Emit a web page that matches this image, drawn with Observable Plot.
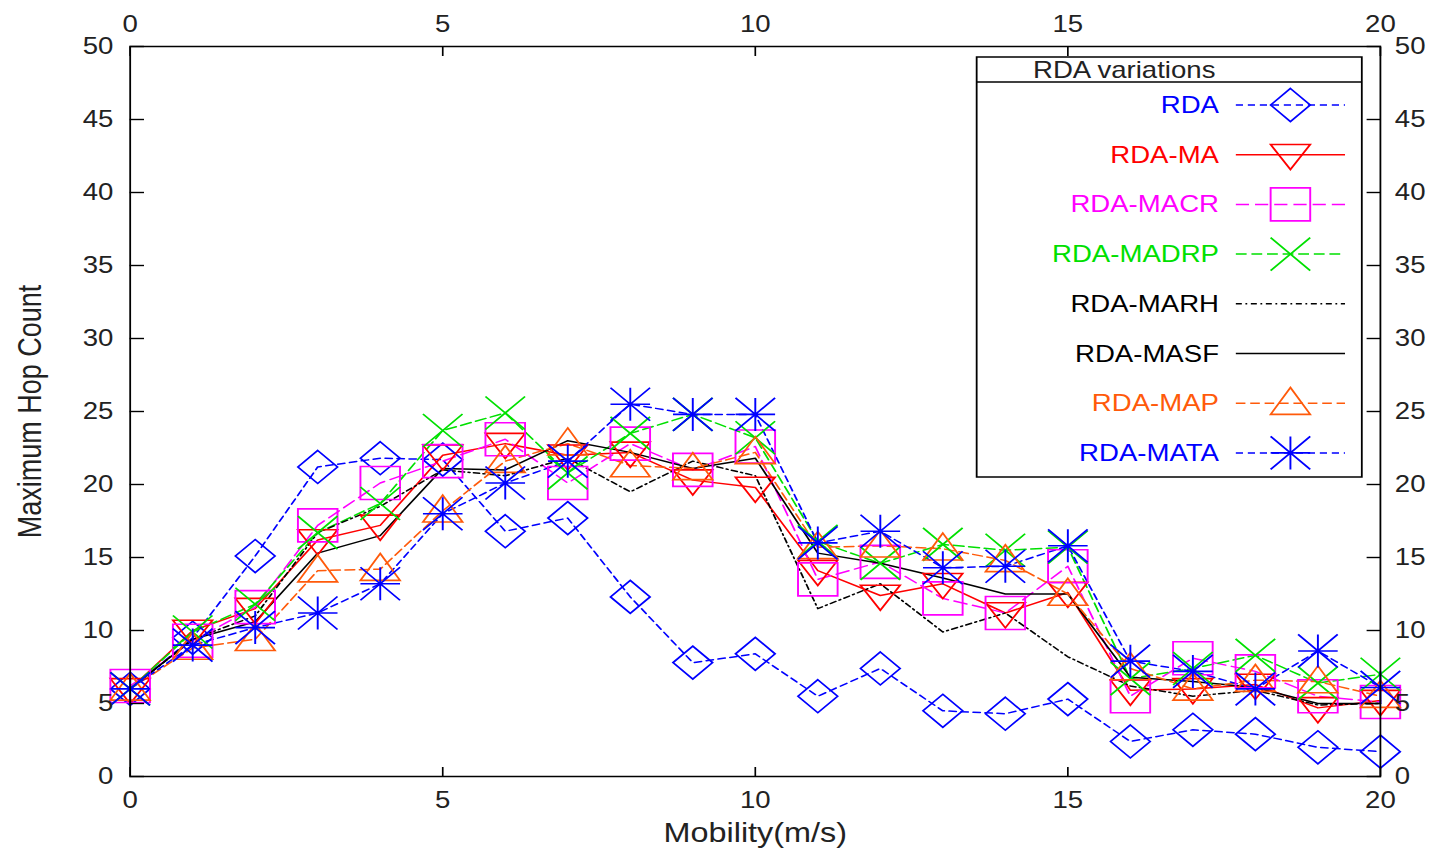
<!DOCTYPE html>
<html>
<head>
<meta charset="utf-8">
<script src="https://cdn.jsdelivr.net/npm/d3@7"></script>
<script src="https://cdn.jsdelivr.net/npm/@observablehq/plot@0.6"></script>
<style>
  html, body { margin: 0; padding: 0; background: #fff; }
  #chart svg { display: block; }
</style>
</head>
<body>
<div id="chart"></div>
<script>
// ---------------- data ----------------
const mobility = [0, 1, 2, 3, 4, 5, 6, 7, 8, 9, 10, 11, 12, 13, 14, 15, 16, 17, 18, 19, 20];
const seriesNames = ["RDA", "RDA-MA", "RDA-MACR", "RDA-MADRP", "RDA-MARH", "RDA-MASF", "RDA-MAP", "RDA-MATA"];
const rda      = [6.0, 9.5, 15.1, 21.2, 21.8, 21.7, 16.8, 17.7, 12.3, 7.8, 8.4, 5.5, 7.4, 4.5, 4.3, 5.3, 2.4, 3.2, 2.9, 2.0, 1.7];
const rdaMA    = [6.0, 10.0, 11.5, 16.2, 17.2, 22.0, 22.8, 22.0, 22.2, 20.3, 19.8, 14.1, 12.4, 13.2, 11.2, 12.6, 5.9, 6.0, 6.3, 4.7, 5.2];
const rdaMACR  = [6.2, 9.3, 11.6, 17.2, 20.1, 21.6, 23.1, 20.1, 22.8, 21.0, 22.6, 13.5, 14.7, 12.2, 11.2, 14.4, 5.5, 8.1, 7.2, 5.5, 5.1];
const rdaMADRP = [6.0, 9.9, 11.8, 16.7, 18.7, 23.7, 24.9, 20.8, 23.5, 24.8, 23.2, 16.1, 14.6, 15.9, 15.5, 15.7, 6.7, 7.4, 8.3, 6.4, 7.0];
const rdaMARH  = [6.0, 9.4, 11.0, 16.7, 18.5, 21.0, 20.6, 21.8, 19.5, 21.6, 20.6, 11.5, 13.2, 9.9, 11.2, 8.2, 6.2, 5.5, 5.9, 4.9, 5.0];
const rdaMASF  = [6.0, 9.4, 10.6, 15.3, 16.5, 21.1, 21.0, 23.0, 22.2, 21.1, 21.8, 15.3, 14.6, 13.6, 12.5, 12.5, 6.8, 6.5, 6.1, 5.0, 5.0];
const rdaMAP   = [6.0, 8.8, 9.4, 14.1, 14.2, 18.2, 21.6, 22.8, 21.3, 21.1, 22.2, 15.7, 15.8, 15.6, 14.8, 12.5, 7.4, 6.0, 6.6, 6.5, 5.5];
const rdaMATA  = [6.0, 9.0, 10.2, 11.2, 13.2, 18.0, 20.1, 21.6, 25.5, 24.8, 24.8, 16.0, 16.8, 14.3, 14.4, 15.8, 7.9, 7.2, 6.0, 8.6, 6.1];
const xTicks = [0, 5, 10, 15, 20];
const yTicks = [0, 5, 10, 15, 20, 25, 30, 35, 40, 45, 50];
const xLabel = "Mobility(m/s)";
const yLabel = "Maximum Hop Count";
const legendTitle = "RDA variations";

// ---------------- styles ----------------
function sym(fn) { return { draw(ctx, size) { fn(ctx, Math.sqrt(size / Math.PI)); } }; }
const symDiamond = sym((c, h) => { c.moveTo(0, -h); c.lineTo(h, 0); c.lineTo(0, h); c.lineTo(-h, 0); c.closePath(); });
const symTriDown = sym((c, h) => { c.moveTo(-h, -0.62 * h); c.lineTo(h, -0.62 * h); c.lineTo(0, 0.9 * h); c.closePath(); });
const symTriUp   = sym((c, h) => { c.moveTo(0, -0.95 * h); c.lineTo(h, 0.68 * h); c.lineTo(-h, 0.68 * h); c.closePath(); });
const symSquare  = sym((c, h) => { c.moveTo(-h, -h); c.lineTo(h, -h); c.lineTo(h, h); c.lineTo(-h, h); c.closePath(); });
const symTimes   = sym((c, h) => { c.moveTo(-h, -h); c.lineTo(h, h); c.moveTo(-h, h); c.lineTo(h, -h); });
const symAster   = sym((c, h) => { c.moveTo(-h, -h); c.lineTo(h, h); c.moveTo(-h, h); c.lineTo(h, -h); c.moveTo(-h, 0); c.lineTo(h, 0); c.moveTo(0, -h); c.lineTo(0, h); });

const BLUE = "#0000ff", RED = "#ff0000", MAGENTA = "#ff00ff", GREEN = "#00e000", BLACK = "#000000", ORANGE = "#ff5a0a";
const seriesValues = [rda, rdaMA, rdaMACR, rdaMADRP, rdaMARH, rdaMASF, rdaMAP, rdaMATA];
const styles = [
  { color: BLUE,    dash: "6,4",       symbol: symDiamond },
  { color: RED,     dash: null,        symbol: symTriDown },
  { color: MAGENTA, dash: "11,5",      symbol: symSquare },
  { color: GREEN,   dash: "9,4",       symbol: symTimes },
  { color: BLACK,   dash: "5,3,1.5,3", symbol: null },
  { color: BLACK,   dash: null,        symbol: null },
  { color: ORANGE,  dash: "8,4",       symbol: symTriUp },
  { color: BLUE,    dash: "6,4",       symbol: symAster }
];
const R = 16.5;

const table = seriesNames.map((name, i) => mobility.map((x, j) => ({ series: name, x, y: seriesValues[i][j] })));

// ---------------- geometry (drawn unstretched, then stretched 1.2x horizontally) ----------------
const OUT_W = 1441, OUT_H = 853, STRETCH = 1.2;
const W = Math.round(OUT_W / STRETCH);

const marks = [];
table.forEach((data, i) => {
  const s = styles[i];
  marks.push(Plot.line(data, { x: "x", y: "y", stroke: s.color, strokeWidth: 1.5, strokeDasharray: s.dash }));
});
table.forEach((data, i) => {
  const s = styles[i];
  if (s.symbol) marks.push(Plot.dot(data, { x: "x", y: "y", symbol: s.symbol, r: R, stroke: s.color, fill: "none", strokeWidth: 1.6 }));
});

const svg = Plot.plot({
  width: W,
  height: OUT_H,
  marginLeft: 108,
  marginRight: 51,
  marginTop: 46,
  marginBottom: 77,
  x: { domain: [0, 20] },
  y: { domain: [0, 50] },
  style: { fontFamily: "'Liberation Sans', Arial, sans-serif", fontSize: "23px", color: "#222", background: "white" },
  marks: [
    ...marks,
    Plot.frame({ stroke: "black", strokeWidth: 1.5 }),
    // tick marks (inward)
    Plot.axisY({ anchor: "left", ticks: yTicks, tickSize: 12, dx: 12, tickFormat: () => "", label: null, stroke: "black", strokeWidth: 1.4 }),
    Plot.axisY({ anchor: "right", ticks: yTicks, tickSize: 12, dx: -12, tickFormat: () => "", label: null, stroke: "black", strokeWidth: 1.4 }),
    Plot.axisX({ anchor: "bottom", ticks: xTicks, tickSize: 9, dy: -9, tickFormat: () => "", label: null, stroke: "black", strokeWidth: 1.4 }),
    Plot.axisX({ anchor: "top", ticks: xTicks, tickSize: 9, dy: 9, tickFormat: () => "", label: null, stroke: "black", strokeWidth: 1.4 }),
    // tick labels
    Plot.axisY({ anchor: "left", ticks: yTicks, tickSize: 0, tickPadding: 14, label: null, fill: "#222" }),
    Plot.axisY({ anchor: "right", ticks: yTicks, tickSize: 0, tickPadding: 12, label: null, fill: "#222" }),
    Plot.axisX({ anchor: "bottom", ticks: xTicks, tickSize: 0, tickPadding: 15, label: null, fill: "#222" }),
    Plot.axisX({ anchor: "top", ticks: xTicks, tickSize: 0, tickPadding: 15, label: null, fill: "#222" }),
    // axis titles
    Plot.text([xLabel], { text: d => d, frameAnchor: "bottom", dy: 57, fontSize: 27, fill: "#222", lineAnchor: "middle", textAnchor: "middle" }),
    Plot.text([yLabel], { text: d => d, frameAnchor: "left", dx: -83, rotate: -90, fontSize: 27, fill: "#222", lineAnchor: "middle", textAnchor: "middle" })
  ]
});

// ---------------- legend ----------------
const lg = d3.select(svg).append("g").attr("class", "legend");
const LX0 = 814, LX1 = 1135, LY0 = 57, LY1 = 477, LTITLE = 82;
lg.append("rect").attr("x", LX0).attr("y", LY0).attr("width", LX1 - LX0).attr("height", LY1 - LY0)
  .attr("fill", "white").attr("stroke", "black").attr("stroke-width", 1.5);
lg.append("line").attr("x1", LX0).attr("x2", LX1).attr("y1", LTITLE).attr("y2", LTITLE)
  .attr("stroke", "black").attr("stroke-width", 1.5);
lg.append("text").attr("x", 937).attr("y", (LY0 + LTITLE) / 2).attr("text-anchor", "middle")
  .attr("dy", "0.35em").attr("font-size", 23).attr("fill", "#222").text(legendTitle);
seriesNames.forEach((name, i) => {
  const s = styles[i];
  const y = 105 + i * 49.7;
  lg.append("text").attr("x", 1016).attr("y", y).attr("dy", "0.35em").attr("text-anchor", "end")
    .attr("font-size", 23).attr("fill", s.color).text(name);
  lg.append("line").attr("x1", 1030).attr("x2", 1121).attr("y1", y).attr("y2", y)
    .attr("stroke", s.color).attr("stroke-width", 1.5).attr("stroke-dasharray", s.dash);
  if (s.symbol) {
    lg.append("path").attr("transform", `translate(1075.5,${y})`)
      .attr("d", d3.symbol(s.symbol, Math.PI * R * R)())
      .attr("fill", "none").attr("stroke", s.color).attr("stroke-width", 1.6);
  }
});

// stretch horizontally to match the reference's aspect
svg.setAttribute("width", OUT_W);
svg.setAttribute("height", OUT_H);
svg.setAttribute("preserveAspectRatio", "none");
svg.style.width = OUT_W + "px";
svg.style.height = OUT_H + "px";
svg.style.maxWidth = "none";
document.getElementById("chart").appendChild(svg);
</script>
</body>
</html>
